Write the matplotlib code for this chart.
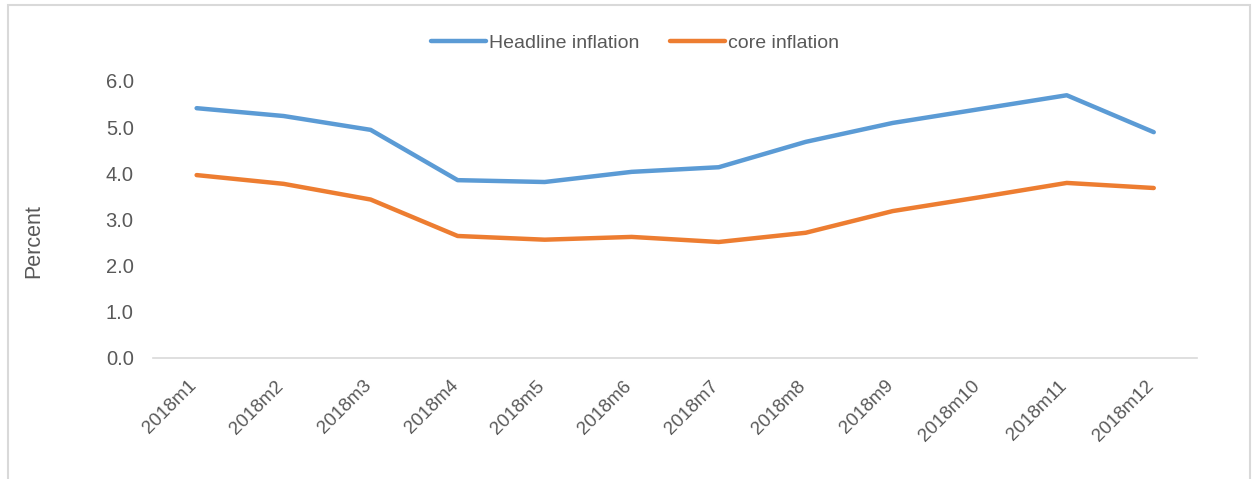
import matplotlib.pyplot as plt
from matplotlib.patches import Rectangle
from matplotlib.transforms import ScaledTranslation

plt.rcParams['font.family'] = ['Liberation Sans', 'DejaVu Sans']

#Data
months = ["2018m1", "2018m2", "2018m3", "2018m4", "2018m5", "2018m6",
          "2018m7", "2018m8", "2018m9", "2018m10", "2018m11", "2018m12"]
headline = [5.41, 5.24, 4.94, 3.85, 3.81, 4.03, 4.13, 4.68, 5.09, 5.39, 5.69, 4.89]
core = [3.96, 3.77, 3.43, 2.64, 2.56, 2.62, 2.51, 2.71, 3.18, 3.48, 3.79, 3.68]
yticks = [0.0, 1.0, 2.0, 3.0, 4.0, 5.0, 6.0]

text_col = "#595959"

fig = plt.figure(figsize=(12.55, 4.79), dpi=100)
ax = fig.add_axes([0.122, 0.253, 0.832, 0.578])

x = range(len(months))
ax.plot(x, headline, color="#5B9BD5", lw=3.2, label="Headline inflation", solid_capstyle="round")
ax.plot(x, core, color="#ED7D31", lw=3.2, label="core inflation", solid_capstyle="round")

ax.set_xlim(-0.5, len(months) - 0.5)
ax.set_ylim(0, 6)
ax.set_xticks(list(x))
ax.set_xticklabels(months, rotation=45, ha="right", rotation_mode="anchor", fontsize=13.5, color=text_col)
ax.set_yticks(yticks)
ax.set_yticklabels([f"{v:.1f}" for v in yticks], fontsize=14.5, color=text_col)
ax.tick_params(axis="y", length=0, pad=14)
ax.tick_params(axis="x", length=0, pad=14)

#shift the rotated month labels a little left
offset = ScaledTranslation(-6 / 72, 0, fig.dpi_scale_trans)
for lbl in ax.get_xticklabels():
    lbl.set_transform(lbl.get_transform() + offset)

for s in ["top", "right", "left"]:
    ax.spines[s].set_visible(False)
ax.spines["bottom"].set_color("#D9D9D9")
ax.spines["bottom"].set_linewidth(1.2)

ax.set_ylabel("Percent", fontsize=15.5, color=text_col)
ax.yaxis.set_label_coords(-0.104, 0.42)

leg = fig.legend(loc="center", bbox_to_anchor=(0.506, 0.91), ncol=2, frameon=False,
                 fontsize=14, handlelength=2.8, handletextpad=0.15, columnspacing=1.6)
for t in leg.get_texts():
    t.set_color(text_col)

#light frame around the chart
fig.patches.append(Rectangle((0.006, -0.05), 0.99, 1.04, transform=fig.transFigure,
                             fill=False, edgecolor="#D9D9D9", lw=1.5))

fig.savefig("out.png", dpi=100)
